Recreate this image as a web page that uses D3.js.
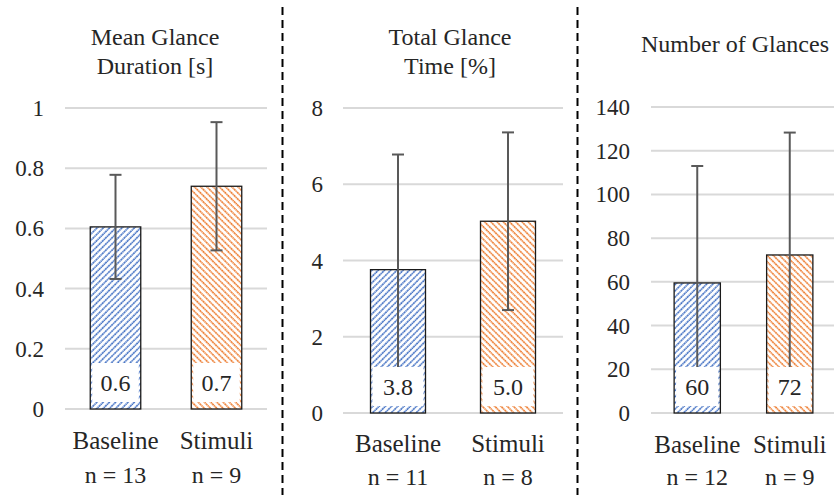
<!DOCTYPE html>
<html><head><meta charset="utf-8">
<script src="https://cdn.jsdelivr.net/npm/d3@7"></script>
</head>
<body style="margin:0">
<svg id="c" width="834" height="495">
<text x="-400" y="-400" font-size="24" font-family="Liberation Serif" opacity="0">Baseline Stimuli 0123456789</text>
</svg>
<script>
const categories = ["Baseline", "Stimuli"];
const titles = [["Mean Glance", "Duration [s]"], ["Total Glance", "Time [%]"], ["Number of Glances"]];
const nLabels = [["n = 13", "n = 9"], ["n = 11", "n = 8"], ["n = 12", "n = 9"]];
const meanValues = [[0.605, 0.74], [3.76, 5.03], [59.5, 72.3]];
const sdValues = [[0.173, 0.213], [3.02, 2.33], [53.5, 56]];
const valueLabels = [["0.6", "0.7"], ["3.8", "5.0"], ["60", "72"]];
const yMax = [1, 8, 140];
const yTicks = [[0, 0.2, 0.4, 0.6, 0.8, 1], [0, 2, 4, 6, 8], [0, 20, 40, 60, 80, 100, 120, 140]];

const colors = ["#4472C4", "#ED7D31"];
const panels = [
  {gx: [65, 267], y: [409, 108], tickX: 44, title: 155, titleY: [45, 74], catY: 449, nY: 483},
  {gx: [343, 563], y: [413, 108], tickX: 323, title: 450, titleY: [45, 74], catY: 452, nY: 485},
  {gx: [651, 836], y: [413, 107], tickX: 630, title: 735, titleY: [52], catY: 453, nY: 485}
];
const FONT = "Liberation Serif";

const svg = d3.select("#c");
function addText(g, x, y, str, size, anchor, dy) {
  const t = g.append("text").attr("x", x).attr("y", y);
  if (dy) t.attr("dy", dy);
  return t.attr("font-size", size).attr("font-family", FONT)
    .attr("fill", "#262626").attr("text-anchor", anchor).text(str);
}

const defs = svg.append("defs");
colors.forEach((c, i) => {
  const p = defs.append("pattern").attr("id", "hatch" + i)
    .attr("patternUnits", "userSpaceOnUse").attr("width", 4.4).attr("height", 4.4)
    .attr("patternTransform", `rotate(${i === 0 ? 45 : -45})`);
  p.append("rect").attr("width", 4.4).attr("height", 4.4).attr("fill", "#fff");
  p.append("line").attr("x1", 1).attr("x2", 1).attr("y1", 0).attr("y2", 4.4)
    .attr("stroke", c).attr("stroke-width", 1.6).attr("stroke-dasharray", "1.8,0.4");
});

[282.5, 577.5].forEach(x => {
  svg.append("line").attr("x1", x).attr("x2", x).attr("y1", 7).attr("y2", 495)
    .attr("stroke", "#000").attr("stroke-width", 2).attr("stroke-dasharray", "8,5");
});

panels.forEach((P, k) => {
  const g = svg.append("g");
  const x = d3.scaleBand().domain(categories).range(P.gx).paddingInner(0.5).paddingOuter(0.25);
  const y = d3.scaleLinear().domain([0, yMax[k]]).range(P.y);

  g.selectAll(".grid").data(yTicks[k]).join("line")
    .attr("x1", P.gx[0]).attr("x2", P.gx[1])
    .attr("y1", d => y(d)).attr("y2", d => y(d))
    .attr("stroke", "#d9d9d9").attr("stroke-width", 2);

  yTicks[k].forEach(t => addText(g, P.tickX, y(t), d3.format("")(t), 23, "end", "0.35em"));

  const data = categories.map((c, i) => ({c, i, m: meanValues[k][i], sd: sdValues[k][i], lab: valueLabels[k][i], n: nLabels[k][i]}));

  g.selectAll(".bar").data(data).join("rect")
    .attr("x", d => x(d.c)).attr("width", x.bandwidth())
    .attr("y", d => y(d.m)).attr("height", d => y(0) - y(d.m))
    .attr("fill", d => `url(#hatch${d.i})`)
    .attr("stroke", "#1a1a1a").attr("stroke-width", 1.3);

  data.forEach(d => {
    const cx = x(d.c) + x.bandwidth() / 2;
    const t = y(d.m + d.sd), b = y(Math.max(0, d.m - d.sd));
    g.append("line").attr("x1", cx).attr("x2", cx).attr("y1", t).attr("y2", b)
      .attr("stroke", "#595959").attr("stroke-width", 2);
    [t, b].forEach(yy => g.append("line").attr("x1", cx - 6).attr("x2", cx + 6)
      .attr("y1", yy).attr("y2", yy).attr("stroke", "#595959").attr("stroke-width", 2));
  });

  data.forEach(d => {
    const bx = x(d.c) + 2, bw = x.bandwidth() - 4;
    const y0 = y(0);
    g.append("rect").attr("x", bx).attr("width", bw).attr("y", y0 - 46).attr("height", 39)
      .attr("fill", "#fff");
    addText(g, x(d.c) + x.bandwidth() / 2, y0 - 26.5, d.lab, 24, "middle", "0.35em");
  });

  data.forEach(d => {
    const cx = x(d.c) + x.bandwidth() / 2;
    addText(g, cx, P.catY, d.c, 25, "middle");
    addText(g, cx, P.nY, d.n, 24, "middle");
  });

  titles[k].forEach((t, j) => addText(g, P.title, P.titleY[j], t, 24, "middle"));
});
</script>
</body></html>
